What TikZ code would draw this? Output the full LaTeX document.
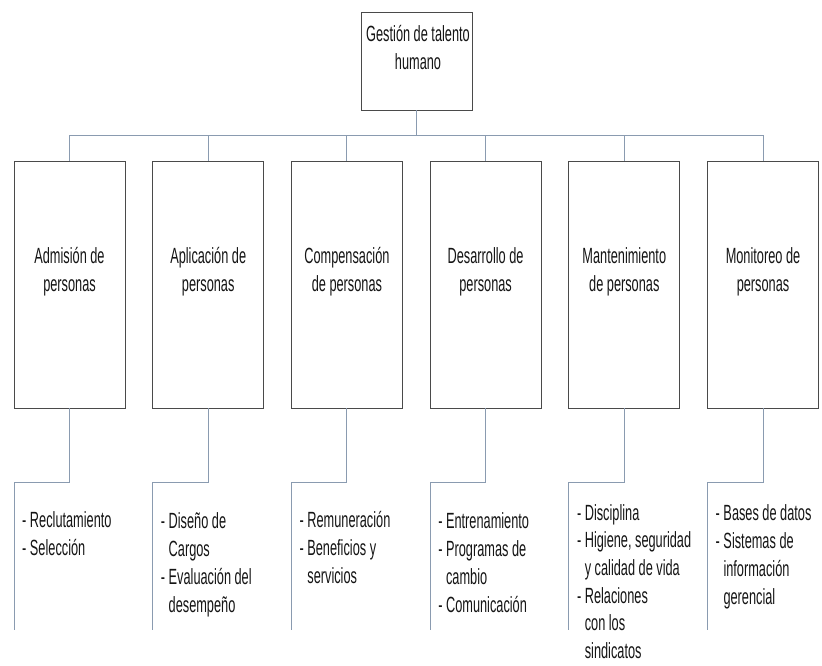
\documentclass[tikz,border=0pt]{standalone}
\usepackage{fontspec}
\setmainfont{Liberation Sans}[FakeStretch=0.58]
\definecolor{boxgray}{HTML}{4A4A4A}
\definecolor{linkblue}{HTML}{8A9BB0}
\definecolor{textgray}{HTML}{151515}
\newcommand{\lnstrut}{\rule{0pt}{21pt}}
\newcommand{\contline}{\phantom{- }}
\tikzset{
  rootbox/.style = {draw=boxgray, line width=0.9pt, minimum width=111pt, minimum height=98pt, inner sep=0pt},
  areabox/.style = {draw=boxgray, line width=0.9pt, minimum width=111pt, minimum height=247pt, inner sep=0pt},
  areatext/.style = {anchor=north, align=center, inner sep=0pt, text=textgray, font=\fontsize{22}{28}\selectfont},
  listtext/.style = {anchor=north west, align=left, inner sep=0pt, text=textgray, font=\fontsize{22}{28}\selectfont},
  link/.style = {draw=linkblue, line width=1pt}
}

\begin{document}
\begin{tikzpicture}[x=1pt, y=-1pt]
\useasboundingbox[fill=white] (0,0) rectangle (822,666);
% top box
\node [rootbox] (gth) at (416.5,61) {};
\node [areatext] (gtht) at (418,20) {\lnstrut Gestión de talento\\humano};
% area boxes
\node [areabox] (adm) at (69.5,284.5) {};
\node [areabox] (apl) at (208.2,284.5) {};
\node [areabox] (com) at (346.9,284.5) {};
\node [areabox] (des) at (485.6,284.5) {};
\node [areabox] (man) at (624.3,284.5) {};
\node [areabox] (mon) at (763,284.5) {};
\node [areatext] (admt) at (adm |- 0,242) {\lnstrut Admisión de\\personas};
\node [areatext] (aplt) at (apl |- 0,242) {\lnstrut Aplicación de\\personas};
\node [areatext] (comt) at (com |- 0,242) {\lnstrut Compensación\\de personas};
\node [areatext] (dest) at (des |- 0,242) {\lnstrut Desarrollo de\\personas};
\node [areatext] (mant) at (man |- 0,242) {\lnstrut Mantenimiento\\de personas};
\node [areatext] (mont) at (mon |- 0,242) {\lnstrut Monitoreo de\\personas};
% bus from the top box
\coordinate (bus) at (416.5,136);
\draw [link] (gth.south) -- (bus);
\draw [link] (bus) -| (adm.north);
\draw [link] (bus) -| (apl.north);
\draw [link] (bus) -| (com.north);
\draw [link] (bus) -| (des.north);
\draw [link] (bus) -| (man.north);
\draw [link] (bus) -| (mon.north);
% lists under the boxes
\coordinate (admknee) at (14,482);    \coordinate (admend) at (14,630);
\coordinate (aplknee) at (152.7,482); \coordinate (aplend) at (152.7,630);
\coordinate (comknee) at (291.4,482); \coordinate (comend) at (291.4,630);
\coordinate (desknee) at (430.1,482); \coordinate (desend) at (430.1,630);
\coordinate (manknee) at (568.8,482); \coordinate (manend) at (568.8,630);
\coordinate (monknee) at (707.5,482); \coordinate (monend) at (707.5,630);
\draw [link] (adm.south) |- (admknee) -- (admend);
\draw [link] (apl.south) |- (aplknee) -- (aplend);
\draw [link] (com.south) |- (comknee) -- (comend);
\draw [link] (des.south) |- (desknee) -- (desend);
\draw [link] (man.south) |- (manknee) -- (manend);
\draw [link] (mon.south) |- (monknee) -- (monend);
\node [listtext] (admlist) at (22,506) {\lnstrut - Reclutamiento\\- Selección};
\node [listtext] (apllist) at (160.7,507) {\lnstrut - Diseño de\\\contline Cargos\\- Evaluación del\\\contline desempeño};
\node [listtext] (comlist) at (299.4,506) {\lnstrut - Remuneración\\- Beneficios y\\\contline servicios};
\node [listtext] (deslist) at (438.1,507) {\lnstrut - Entrenamiento\\- Programas de\\\contline cambio\\- Comunicación};
\node [listtext, font=\fontsize{22}{27.6}\selectfont] (manlist) at (576.8,499) {\lnstrut - Disciplina\\- Higiene, seguridad\\\contline y calidad de vida\\- Relaciones\\\contline con los\\\contline sindicatos};
\node [listtext] (monlist) at (715.5,499) {\lnstrut - Bases de datos\\- Sistemas de\\\contline información\\\contline gerencial};
\end{tikzpicture}
\end{document}
